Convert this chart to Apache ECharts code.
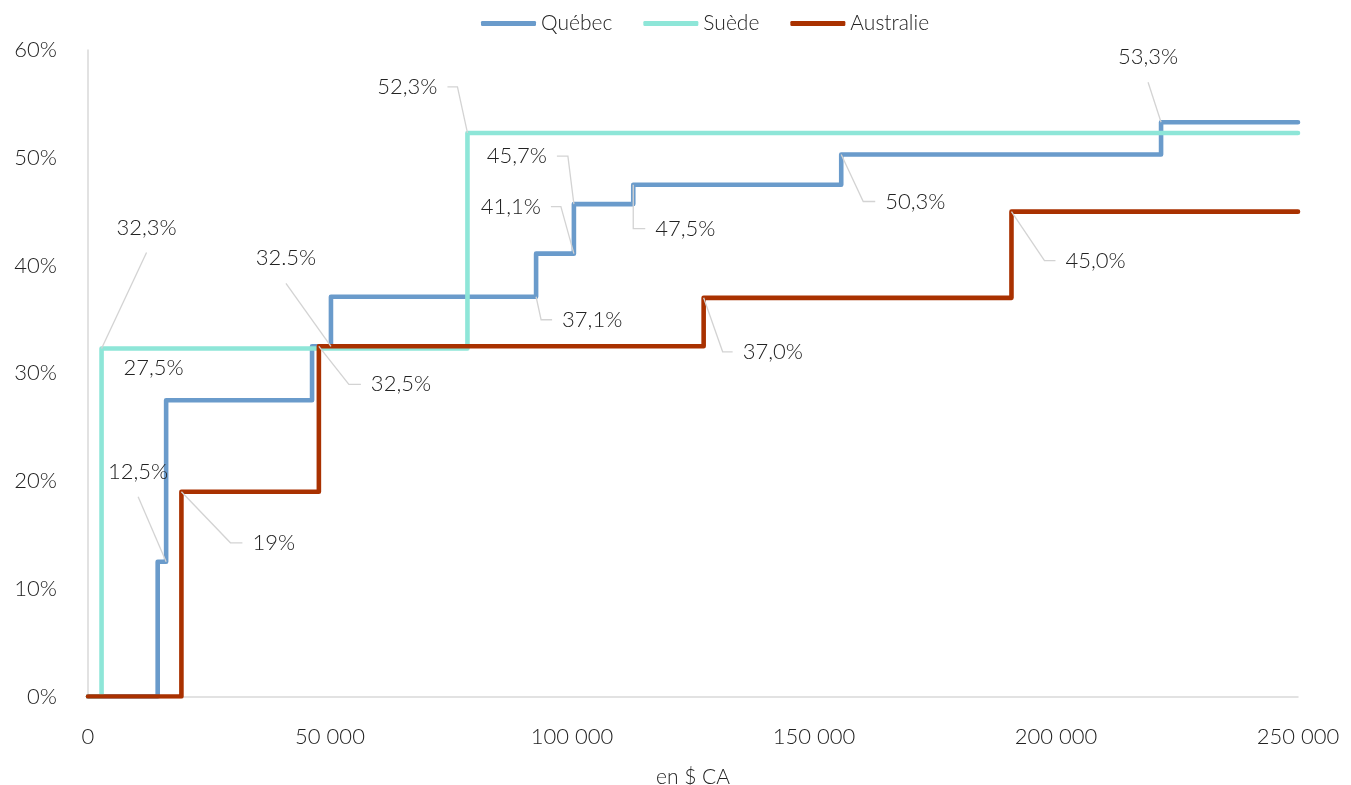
<!DOCTYPE html>
<html><head><meta charset="utf-8">
<script src="https://cdn.jsdelivr.net/npm/echarts@6/dist/echarts.min.js"></script>
<style>html,body{margin:0;padding:0;background:#fff}#c{width:1351px;height:785px}</style>
</head><body><div id="c"></div>
<script>
// ---- data ----
const seriesNames = ['Québec', 'Suède', 'Australie'];
const quebecIncome = [0, 14398, 16143, 46295, 50197, 92580, 100392, 112655, 155625, 221708, 250000];
const quebecRate = [0, 12.5, 27.5, 32.5, 37.1, 41.1, 45.7, 47.5, 50.3, 53.3, 53.3];
const suedeIncome = [0, 2800, 78400, 250000];
const suedeRate = [0, 32.3, 52.3, 52.3];
const australieIncome = [0, 19300, 47700, 127200, 190800, 250000];
const australieRate = [0, 19, 32.5, 37.0, 45.0, 45.0];
const xTicks = [0, 50000, 100000, 150000, 200000, 250000];
const yTicks = [0, 10, 20, 30, 40, 50, 60];
const xAxisName = 'en $ CA';
const labelText = ['32,3%', '12,5%', '27,5%', '19%', '32.5%', '32,5%', '37,1%', '41,1%', '45,7%', '47,5%', '50,3%', '45,0%', '53,3%', '52,3%', '37,0%'];
const labelIncome = [2800, 16143, 16143, 19300, 50197, 47700, 92580, 100392, 100392, 112655, 155625, 190800, 221708, 78400, 127200];
const labelRate = [32.3, 12.5, 27.5, 19, 32.5, 32.5, 37.1, 41.1, 45.7, 47.5, 50.3, 45.0, 53.3, 52.3, 37.0];

// ---- styles / layout ----
const colors = ['#6a9bcb', '#8ee6d8', '#a93100'];
const labelLayout = [
  {ex: 45, ey: -96, mode: 'up'},
  {ex: -28, ey: -65, mode: 'up'},
  {ex: -12.5, ey: -32, mode: 'none'},
  {ex: 49, ey: 51, h: 12},
  {ex: -45, ey: -63, mode: 'up'},
  {ex: 30, ey: 38, h: 12},
  {ex: 5, ey: 23, h: 11},
  {ex: -13, ey: -47, h: -10},
  {ex: -6, ey: -48, h: -11},
  {ex: 0, ey: 44, h: 12},
  {ex: 22, ey: 47, h: 12},
  {ex: 33, ey: 49, h: 11},
  {ex: -13, ey: -40, mode: 'up'},
  {ex: -10, ey: -46, h: -10},
  {ex: 19, ey: 54, h: 10}
];
const FONT = 'Lato';
const WEIGHT = 300;
const TXT = '#222222';
const LEADER = '#d3d3d3';

function pairs(xs, ys) { return xs.map((x, i) => [x, ys[i]]); }
function fmtThousands(v) { return String(v).replace(/\B(?=(\d{3})+(?!\d))/g, ' '); }

function renderLabel(params, api) {
  const i = api.value(2);
  const p = api.coord([api.value(0), api.value(1)]);
  const L = labelLayout[i];
  const ex = p[0] + L.ex, ey = p[1] + L.ey;
  const children = [];
  const textStyle = (x, y, align) => ({
    text: labelText[i], x: x, y: y, align: align, verticalAlign: 'middle',
    fill: TXT, fontSize: 22, fontFamily: FONT, fontWeight: WEIGHT
  });
  if (L.mode === 'none') {
    children.push({type: 'text', style: textStyle(ex, ey, 'center')});
  } else if (L.mode === 'up') {
    children.push({type: 'polyline', shape: {points: [p, [ex, ey]]}, style: {stroke: LEADER, lineWidth: 1.3, fill: null}});
    children.push({type: 'text', style: textStyle(ex, ey - 25, 'center')});
  } else {
    const hx = ex + L.h;
    children.push({type: 'polyline', shape: {points: [p, [ex, ey], [hx, ey]]}, style: {stroke: LEADER, lineWidth: 1.3, fill: null}});
    const right = L.h > 0;
    children.push({type: 'text', style: textStyle(hx + (right ? 10 : -10), ey, right ? 'left' : 'right')});
  }
  return {type: 'group', children: children};
}

const lineSeries = [
  [quebecIncome, quebecRate],
  [suedeIncome, suedeRate],
  [australieIncome, australieRate]
].map((d, k) => ({
  name: seriesNames[k],
  type: 'line',
  step: 'end',
  data: pairs(d[0], d[1]),
  symbol: 'none',
  lineStyle: {width: 4.6, color: colors[k], cap: 'round', join: 'round'},
  itemStyle: {color: colors[k]},
  z: 2
}));

const chart = echarts.init(document.getElementById('c'), null, {renderer: 'canvas'});
chart.setOption({
  animation: false,
  backgroundColor: '#ffffff',
  textStyle: {fontFamily: FONT, fontWeight: WEIGHT},
  legend: {
    data: seriesNames,
    top: 8,
    left: 476,
    icon: 'roundRect',
    itemWidth: 55,
    itemHeight: 5,
    itemGap: 31,
    textStyle: {fontSize: 21, color: TXT, fontFamily: FONT, fontWeight: WEIGHT}
  },
  grid: {left: 88, right: 53, top: 50, bottom: 88.5, outerBoundsMode: 'none', containLabel: false},
  xAxis: {
    type: 'value',
    min: xTicks[0],
    max: xTicks[xTicks.length - 1],
    interval: xTicks[1] - xTicks[0],
    name: xAxisName,
    nameLocation: 'middle',
    nameGap: 70,
    nameTextStyle: {fontSize: 21, color: TXT, fontFamily: FONT, fontWeight: WEIGHT},
    axisLine: {show: true, lineStyle: {color: '#d9d9d9', width: 1.5}},
    axisTick: {show: false},
    splitLine: {show: false},
    axisLabel: {margin: 29, fontSize: 22, color: TXT, fontFamily: FONT, fontWeight: WEIGHT, formatter: fmtThousands}
  },
  yAxis: {
    type: 'value',
    min: yTicks[0],
    max: yTicks[yTicks.length - 1],
    interval: yTicks[1] - yTicks[0],
    axisLine: {show: true, lineStyle: {color: '#d9d9d9', width: 1.5}},
    axisTick: {show: false},
    splitLine: {show: false},
    axisLabel: {margin: 31, fontSize: 22, color: TXT, fontFamily: FONT, fontWeight: WEIGHT, formatter: '{value}%', padding: [0, 0, 6, 0]}
  },
  series: lineSeries.concat([{
    type: 'custom',
    renderItem: renderLabel,
    data: labelIncome.map((x, i) => [x, labelRate[i], i]),
    clip: false,
    silent: true,
    z: 5
  }])
});
</script></body></html>
